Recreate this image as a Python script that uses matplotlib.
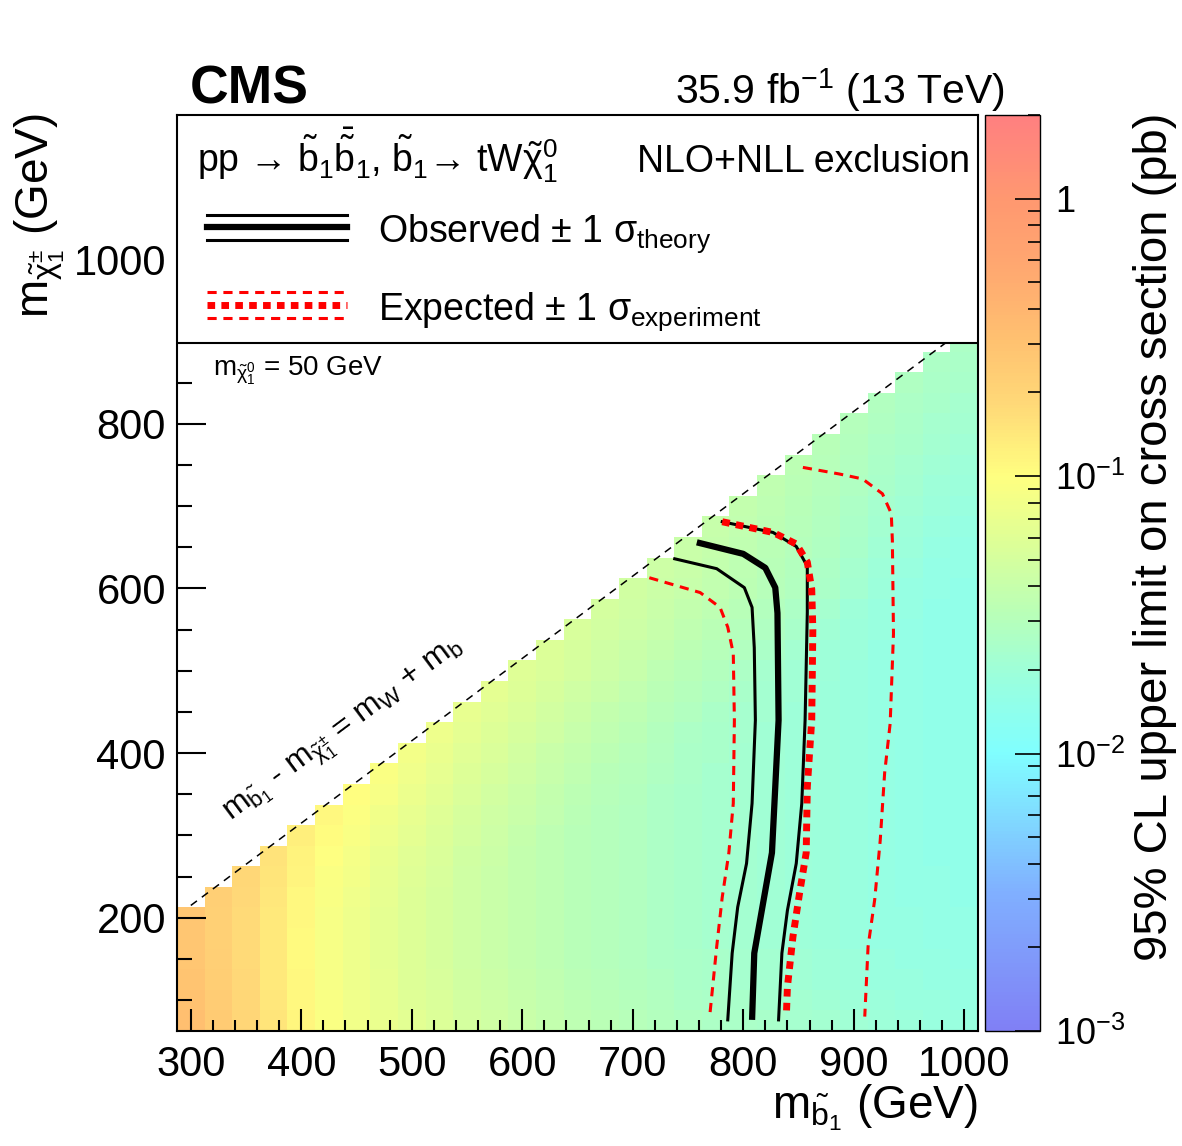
import matplotlib
matplotlib.use('Agg')
import matplotlib.pyplot as plt
import numpy as np
from matplotlib.colors import LogNorm, LinearSegmentedColormap
from matplotlib.patches import Rectangle

plt.rcParams['font.family'] = ['Liberation Sans', 'DejaVu Sans']
plt.rcParams['mathtext.fontset'] = 'custom'
plt.rcParams['mathtext.rm'] = 'Liberation Sans'
plt.rcParams['mathtext.it'] = 'Liberation Sans'
plt.rcParams['mathtext.bf'] = 'Liberation Sans:bold'
plt.rcParams['mathtext.sf'] = 'Liberation Sans'

# sbottom mass points (GeV), one column of cells each
sbottom_masses = [300, 325, 350, 375, 400, 425, 450, 475, 500, 525, 550, 575, 600, 625, 650,
                  675, 700, 725, 750, 775, 800, 825, 850, 875, 900, 925, 950, 975, 1000]
chargino_start = 75  # lowest chargino mass point (GeV), cells go up in 25 GeV steps

# 95% CL upper limit (in fb, i.e. 1e-3 pb), per sbottom column, from m_chi = 75 upwards
limit_fb = [
    [320, 300, 290, 280, 280, 280],
    [250, 240, 230, 225, 220, 220, 225],
    [195, 190, 185, 180, 180, 180, 185, 190],
    [150, 145, 140, 140, 140, 140, 145, 150, 155],
    [115, 112, 110, 108, 108, 110, 112, 116, 122, 128],
    [92, 90, 88, 87, 87, 88, 90, 93, 98, 104, 110],
    [80, 78, 76, 75, 75, 76, 78, 81, 85, 90, 96, 102],
    [70, 68, 66, 65, 65, 65, 66, 68, 71, 75, 80, 86, 92],
    [62, 60, 58, 57, 57, 57, 57, 59, 61, 64, 68, 72, 77, 82],
    [56, 54, 52, 51, 51, 51, 51, 52, 54, 56, 59, 62, 66, 70, 75],
    [50, 48, 47, 46, 46, 46, 46, 46, 47, 49, 51, 54, 57, 61, 65, 69],
    [46, 44, 43, 42, 42, 42, 42, 42, 43, 44, 46, 48, 51, 54, 57, 61, 64],
    [42, 40, 39, 38, 38, 38, 38, 38, 38, 39, 41, 43, 45, 48, 51, 54, 57, 60],
    [38, 37, 36, 35, 35, 35, 35, 35, 35, 35, 37, 38, 40, 42, 45, 48, 51, 54, 56],
    [35, 34, 33, 32, 32, 32, 32, 32, 32, 32, 33, 34, 36, 38, 40, 43, 46, 49, 51, 53],
    [33, 32, 31, 30, 30, 30, 30, 30, 30, 30, 30, 31, 32, 34, 36, 38, 41, 44, 46, 48, 50],
    [31, 30, 29, 28, 28, 28, 28, 28, 28, 28, 28, 29, 30, 31, 33, 35, 37, 40, 42, 44, 46, 47],
    [29, 28, 27, 26, 26, 26, 26, 26, 26, 26, 26, 26, 27, 28, 29, 31, 33, 35, 38, 40, 42, 43, 44],
    [27, 26, 25, 25, 24, 24, 24, 24, 24, 24, 24, 24, 25, 25, 26, 28, 30, 32, 34, 36, 38, 40, 41, 42],
    [26, 25, 24, 24, 23, 23, 23, 23, 23, 23, 23, 23, 23, 24, 24, 25, 27, 29, 31, 33, 35, 37, 38, 39, 40],
    [25, 24, 23, 23, 22, 22, 22, 22, 22, 22, 22, 22, 22, 22, 23, 23, 24, 26, 28, 30, 32, 34, 35, 36, 37, 38],
    [24, 23, 22, 22, 21, 21, 21, 21, 21, 21, 21, 21, 21, 21, 21, 22, 22, 23, 25, 27, 29, 31, 32, 33, 34, 35, 36],
    [23, 22, 21, 21, 20, 20, 20, 20, 20, 20, 20, 20, 20, 20, 20, 20, 21, 21, 22, 24, 26, 28, 29, 30, 31, 32, 33, 34],
    [22, 21, 20, 20, 19, 19, 19, 19, 19, 19, 19, 19, 19, 19, 19, 19, 19, 20, 20, 21, 23, 25, 26, 27, 28, 29, 30, 31, 32],
    [21, 20, 19, 19, 18, 18, 18, 18, 18, 18, 18, 18, 18, 18, 18, 18, 18, 18, 19, 19, 20, 22, 23, 24, 25, 26, 27, 28, 29, 30],
    [20, 19, 18, 18, 17, 17, 17, 17, 17, 17, 17, 17, 17, 17, 17, 17, 17, 17, 17, 18, 18, 19, 20, 21, 22, 23, 24, 25, 26, 27, 28],
    [19, 18, 18, 17, 17, 17, 16, 16, 16, 16, 16, 16, 16, 16, 16, 16, 16, 16, 16, 16, 17, 17, 18, 19, 20, 21, 22, 23, 24, 25, 26, 27],
    [18, 18, 17, 17, 16, 16, 16, 16, 15, 15, 15, 15, 15, 15, 15, 15, 15, 15, 15, 15, 15, 16, 16, 17, 18, 19, 20, 21, 22, 23, 24, 25, 26],
    [18, 17, 17, 16, 16, 16, 15, 15, 15, 15, 15, 15, 15, 15, 15, 15, 15, 15, 15, 15, 15, 15, 16, 16, 17, 18, 19, 20, 21, 22, 23, 24, 25, 26],
]

# exclusion contours (m_sbottom, m_chargino) in GeV
obs_x = [758, 800, 820, 829, 831, 832, 829, 826, 818, 810, 808]
obs_y = [656, 642, 625, 601, 570, 440, 359, 279, 218, 157, 76]
obs_m_x = [738, 776, 801, 808, 810, 811, 808, 803, 795, 790, 786]
obs_m_y = [636, 624, 601, 577, 528, 440, 339, 266, 213, 157, 76]
obs_p_x = [781, 827, 848, 858, 858, 856, 853, 848, 840, 835, 832]
obs_p_y = [681, 668, 651, 627, 571, 440, 339, 266, 209, 157, 76]
exp_x = [781, 827, 848, 858, 862, 863, 862, 858, 857, 851, 845, 840, 839]
exp_y = [681, 668, 654, 632, 599, 550, 440, 359, 279, 230, 177, 116, 80]
exp_m_x = [715, 761, 779, 786, 791, 792, 791, 787, 781, 776, 770]
exp_m_y = [613, 595, 577, 553, 521, 440, 339, 279, 225, 165, 85]
exp_p_x = [854, 887, 908, 926, 934, 935, 936, 933, 928, 924, 919, 913, 910]
exp_p_y = [747, 739, 733, 715, 691, 658, 545, 436, 376, 294, 222, 165, 80]

# kinematic limit m_sb - m_chi = m_W + m_b
diag_x = [300, 1000]
diag_y = [215, 915]

x_ticks = [300, 400, 500, 600, 700, 800, 900, 1000]
y_ticks = [200, 400, 600, 800, 1000]
cbar_ticks = [1e-3, 1e-2, 1e-1, 1]
cbar_labels = [r'10$^{-3}$', r'10$^{-2}$', r'10$^{-1}$', '1']

# pastel rainbow palette, (log10 value, colour)
palette = [(-3.0, '#8080f5'), (-2.5, '#80b0ff'), (-2.0, '#80ffff'), (-1.75, '#98ffe0'),
           (-1.5, '#b8ffb8'), (-1.25, '#dcff98'), (-1.0, '#ffff80'), (-0.75, '#ffda78'),
           (-0.5, '#ffc070'), (-0.25, '#ffa870'), (0.0, '#ff9870'), (0.30103, '#ff8080')]
zmin, zmax = 1e-3, 2.0
lo, hi = palette[0][0], palette[-1][0]
cmap = LinearSegmentedColormap.from_list(
    'pastel', [(min(1.0, (v - lo) / (hi - lo)), c) for v, c in palette])
norm = LogNorm(vmin=zmin, vmax=zmax)

W, H = 1182, 1146
fig = plt.figure(figsize=(W / 100, H / 100), dpi=100)
ax = fig.add_axes([177 / W, 1 - 1031 / H, 801 / W, 916 / H])
cax = fig.add_axes([985 / W, 1 - 1031 / H, 55 / W, 916 / H])

# heatmap
step = 25
nrows = max(len(c) for c in limit_fb)
Z = np.full((nrows, len(sbottom_masses)), np.nan)
for i, col in enumerate(limit_fb):
    Z[:len(col), i] = np.array(col) / 1000.0
x_edges = np.array(sbottom_masses + [sbottom_masses[-1] + step]) - step / 2
y_edges = chargino_start - step / 2 + step * np.arange(nrows + 1)
mesh = ax.pcolormesh(x_edges, y_edges, np.ma.masked_invalid(Z), cmap=cmap, norm=norm)

# contours
ax.plot(diag_x, diag_y, color='black', lw=1.1, dashes=(5, 4), zorder=3)
ax.plot(obs_x, obs_y, color='black', lw=4.5, zorder=4, solid_capstyle='butt')
ax.plot(obs_m_x, obs_m_y, color='black', lw=2.2, zorder=4)
ax.plot(obs_p_x, obs_p_y, color='black', lw=2.2, zorder=4)
ax.plot(exp_x, exp_y, color='red', lw=5, dashes=(1.1, 0.9), zorder=4)
ax.plot(exp_m_x, exp_m_y, color='red', lw=2.2, dashes=(3, 2.2), zorder=4)
ax.plot(exp_p_x, exp_p_y, color='red', lw=2.2, dashes=(3, 2.2), zorder=4)

ax.set_xlim(287.5, 1012.5)
ax.set_ylim(62.5, 1175)
ax.set_xticks(x_ticks)
ax.set_xticks(np.arange(300, 1001, 20), minor=True)
ax.set_yticks(y_ticks)
ax.set_yticks(np.arange(100, 1151, 50), minor=True)
ax.tick_params(axis='both', which='both', direction='in', top=False, right=False,
               width=1.5, labelsize=30)
ax.tick_params(axis='x', which='major', length=16, pad=10)
ax.tick_params(axis='x', which='minor', length=8)
ax.tick_params(axis='y', which='major', length=21, pad=8)
ax.tick_params(axis='y', which='minor', length=11)
for s in ax.spines.values():
    s.set_linewidth(1.5)

# legend box
ax.add_patch(Rectangle((0, 0.751), 1, 0.249, transform=ax.transAxes, facecolor='white',
                       edgecolor='black', lw=1.5, zorder=5))
ax.text(0.025, 0.9377, r'pp → $\tilde{b}_{1}\bar{\tilde{b}}_{1}$, $\tilde{b}_{1}$→ tW$\tilde{\chi}^{0}_{1}$',
        transform=ax.transAxes, fontsize=27, va='baseline', ha='left', zorder=6)
ax.text(0.990, 0.9377, 'NLO+NLL exclusion', transform=ax.transAxes, fontsize=27,
        va='baseline', ha='right', zorder=6)
lx = [0.0375, 0.212]
ax.plot(lx, [0.8908, 0.8908], color='black', lw=2.2, transform=ax.transAxes, zorder=6)
ax.plot(lx, [0.8772, 0.8772], color='black', lw=4.5, transform=ax.transAxes, zorder=6)
ax.plot(lx, [0.8635, 0.8635], color='black', lw=2.2, transform=ax.transAxes, zorder=6)
ax.plot(lx, [0.8067, 0.8067], color='red', lw=2.2, dashes=(3, 2.2), transform=ax.transAxes, zorder=6)
ax.plot(lx, [0.7925, 0.7925], color='red', lw=5, dashes=(1.1, 0.9), transform=ax.transAxes, zorder=6)
ax.plot(lx, [0.7783, 0.7783], color='red', lw=2.2, dashes=(3, 2.2), transform=ax.transAxes, zorder=6)
ax.text(0.251, 0.862, r'Observed $\pm$ 1 $\sigma_{\mathrm{theory}}$', transform=ax.transAxes,
        fontsize=27, va='baseline', ha='left', zorder=6)
ax.text(0.251, 0.777, r'Expected $\pm$ 1 $\sigma_{\mathrm{experiment}}$', transform=ax.transAxes,
        fontsize=27, va='baseline', ha='left', zorder=6)

ax.text(0.045, 0.716, r'm$_{\tilde{\chi}^{0}_{1}}$ = 50 GeV', transform=ax.transAxes,
        fontsize=20, va='baseline', ha='left', zorder=6)
ax.text(440, 426, r'm$_{\tilde{b}_{1}}$ - m$_{\tilde{\chi}^{\pm}_{1}}$ = m$_{W}$ + m$_{b}$',
        fontsize=23, rotation=36.7, rotation_mode='anchor', ha='center', va='center')

# colorbar
cb = fig.colorbar(mesh, cax=cax)
cb.set_ticks(cbar_ticks)
cb.set_ticklabels(cbar_labels)
cax.tick_params(which='both', direction='in', width=1.2, labelsize=26, pad=11)
cax.tick_params(which='major', length=18)
cax.tick_params(which='minor', length=9)
cb.outline.set_linewidth(1.0)

fig.text(190 / W, 1 - 104 / H, 'CMS', fontsize=38.5, fontweight='bold', ha='left', va='baseline')
fig.text(1005 / W, 1 - 104 / H, r'35.9 fb$^{-1}$ (13 TeV)', fontsize=29.5, ha='right', va='baseline')
fig.text(13 / W, 1 - 113 / H, r'm$_{\tilde{\chi}^{\pm}_{1}}$ (GeV)', fontsize=33, rotation=90,
         ha='left', va='top')
fig.text(978 / W, 1 - 1118 / H, r'm$_{\tilde{b}_{1}}$ (GeV)', fontsize=33, ha='right', va='baseline')
fig.text(1155 / W, 1 - 113 / H, '95% CL upper limit on cross section (pb)', fontsize=34,
         rotation=90, ha='center', va='top')

fig.savefig('out.png', dpi=100)
